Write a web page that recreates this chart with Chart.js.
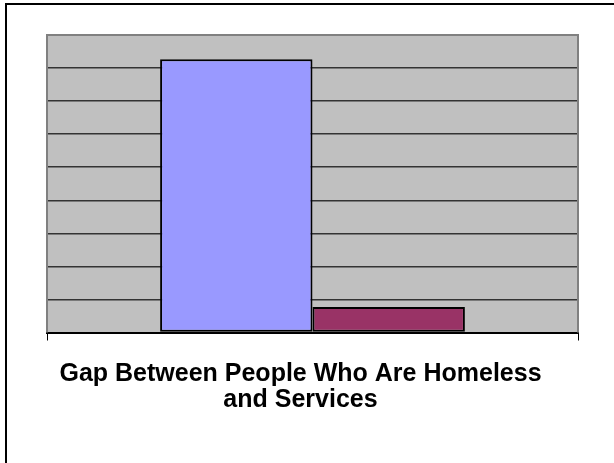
<!DOCTYPE html>
<html>
<head>
<meta charset="utf-8">
<script src="https://cdn.jsdelivr.net/npm/chart.js@4/dist/chart.umd.min.js"></script>
<style>
  html, body { margin: 0; padding: 0; background: #fff; }
  #wrap { width: 614px; height: 463px; }
</style>
</head>
<body>
<div id="wrap"><canvas id="myChart" width="614" height="463"></canvas></div>
<script>
const categories = [''];
const seriesNames = ['People Who Are Homeless', 'Services'];
const seriesValues = [8.27, 0.77];
const seriesColors = ['#9999FF', '#993366'];
const yMax = 9;
const titleLines = ['Gap Between People Who Are Homeless', 'and Services'];

// gray plot background, plot frame and the outer chart border
const frame = {
  id: 'frame',
  beforeDraw(chart) {
    const { ctx, chartArea: a } = chart;
    ctx.save();
    ctx.fillStyle = '#fff';
    ctx.fillRect(0, 0, chart.width, chart.height);
    ctx.strokeStyle = '#000';
    ctx.lineWidth = 2;
    ctx.strokeRect(6, 4, chart.width + 20, chart.height + 20);
    ctx.fillStyle = '#C0C0C0';
    ctx.fillRect(a.left, a.top, a.right - a.left, a.bottom - a.top);
    ctx.restore();
  },
  beforeDatasetsDraw(chart) {
    const { ctx, chartArea: a } = chart;
    ctx.save();
    ctx.strokeStyle = '#808080';
    ctx.lineWidth = 2;
    ctx.beginPath();
    ctx.moveTo(a.left, a.bottom);
    ctx.lineTo(a.left, a.top);
    ctx.lineTo(a.right, a.top);
    ctx.lineTo(a.right, a.bottom);
    ctx.stroke();
    ctx.restore();
  }
};

const ctx = document.getElementById('myChart').getContext('2d');
const chart = new Chart(ctx, {
  type: 'bar',
  data: {
    labels: categories,
    datasets: seriesNames.map((name, i) => ({
      label: name,
      data: [seriesValues[i]],
      backgroundColor: seriesColors[i],
      borderColor: '#000',
      borderWidth: 2,
      borderSkipped: false,
      categoryPercentage: 0.574,
      barPercentage: 1
    }))
  },
  options: {
    responsive: false,
    animation: false,
    devicePixelRatio: 1,
    layout: { padding: { left: 23, top: 35, right: 36, bottom: 0 } },
    plugins: {
      legend: { display: false },
      tooltip: { enabled: false },
      title: {
        display: true,
        position: 'bottom',
        text: titleLines,
        color: '#000',
        font: { family: 'Liberation Sans, Arial, sans-serif', size: 25, weight: 'bold', lineHeight: 1.05 },
        padding: { top: 20, bottom: 50 }
      }
    },
    scales: {
      x: {
        offset: true,
        ticks: { display: false },
        grid: { display: true, drawOnChartArea: false, offset: true, tickLength: 8, color: '#000', lineWidth: 1 },
        border: { display: true, color: '#000', width: 2 }
      },
      y: {
        min: 0,
        max: yMax,
        ticks: { display: false, stepSize: 1 },
        grid: { drawTicks: false, color: '#333', lineWidth: 1.5 },
        border: { display: false },
        afterFit(scale) { scale.width = 24; }
      }
    }
  },
  plugins: [frame]
});
</script>
</body>
</html>
